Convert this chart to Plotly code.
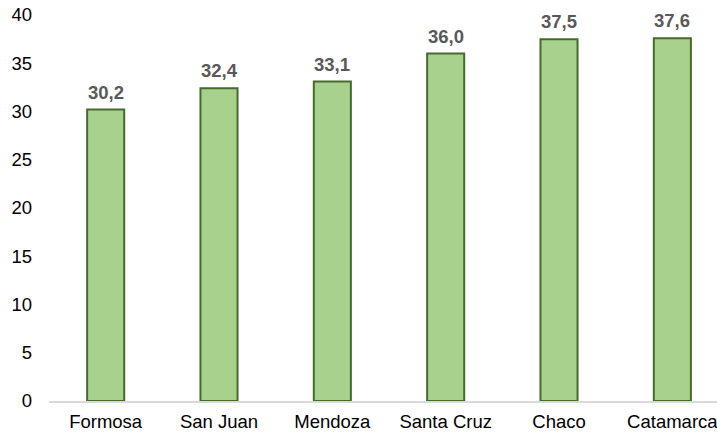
import plotly.graph_objects as go

provinces = ["Formosa", "San Juan", "Mendoza", "Santa Cruz", "Chaco", "Catamarca"]
values = [30.2, 32.4, 33.1, 36.0, 37.5, 37.6]
labels = ["30,2", "32,4", "33,1", "36,0", "37,5", "37,6"]
y_ticks = [0, 5, 10, 15, 20, 25, 30, 35, 40]

FONT = "Liberation Sans, Arial"
fig = go.Figure(go.Bar(
    x=provinces, y=values,
    marker=dict(color="#a9d18e", line=dict(color="#446b2b", width=2)),
    hoverinfo="skip",
))
for p, v, t in zip(provinces, values, labels):
    fig.add_annotation(x=p, y=v, text=t, showarrow=False, yanchor="bottom", yshift=5,
                       font=dict(family=FONT, size=18.5, color="#595959", weight="bold"))
fig.update_layout(
    width=717, height=432, paper_bgcolor="white", plot_bgcolor="white",
    margin=dict(l=49, r=0, t=15, b=31, autoexpand=False),
    bargap=0.673, showlegend=False,
    font=dict(family=FONT, size=18.5, color="#000000"),
)
fig.update_xaxes(range=[-0.5, 5.394], showline=True, linecolor="#d9d9d9", linewidth=1.5,
                 ticks="", automargin=False, ticklabelstandoff=3, ticklabeloverflow="allow",
                 tickfont=dict(size=18.5, color="#000000"))
fig.update_yaxes(range=[0, 40], tickvals=y_ticks, showgrid=False, zeroline=False, automargin=False,
                 showline=False, ticks="", ticklabelstandoff=16, ticklabeloverflow="allow",
                 tickfont=dict(size=18.5, color="#000000"))
fig.write_html("out.html", config={"displayModeBar": False},
               post_script="document.body.style.margin='0';")
